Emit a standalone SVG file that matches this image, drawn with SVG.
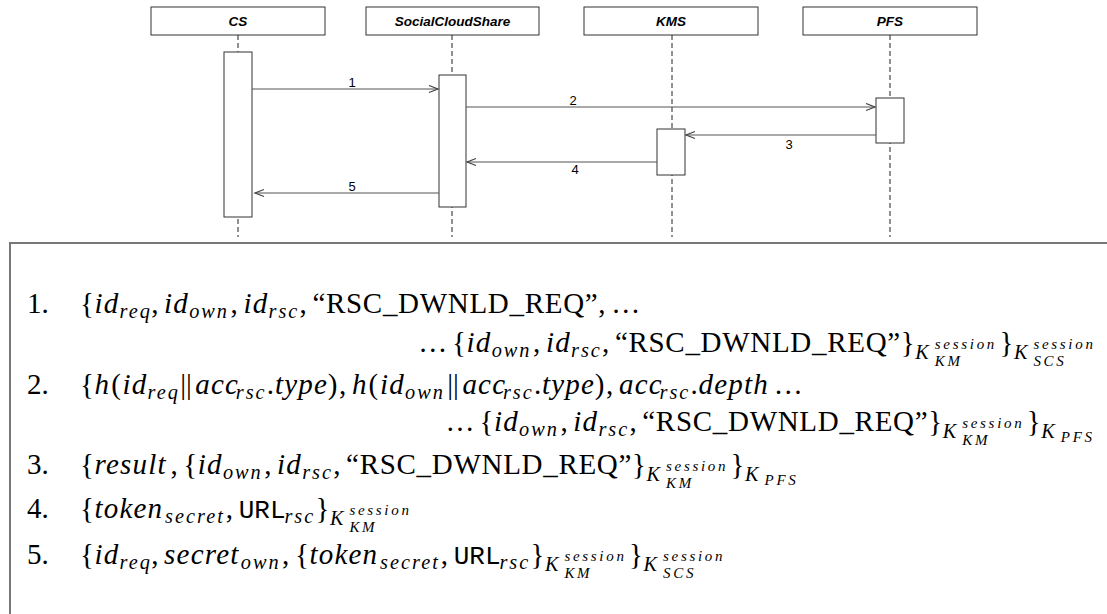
<svg xmlns="http://www.w3.org/2000/svg" width="1107" height="614" viewBox="0 0 1107 614">
<style>
.pbox{fill:#fff;stroke:#333;stroke-width:1}
.plabel{font-family:"Liberation Sans",Arial,sans-serif;font-size:13.5px;font-weight:bold;font-style:italic;text-anchor:middle;fill:#000}
.life{stroke:#222;stroke-width:1;stroke-dasharray:5,3;fill:none}
.act{fill:#fff;stroke:#333;stroke-width:1}
.msg{stroke:#555;stroke-width:1.2;fill:none;marker-end:url(#open)}
.mlabel{font-family:"Liberation Sans",Arial,sans-serif;font-size:13px;text-anchor:middle;fill:#000}
.frame{fill:#fff;stroke:#777;stroke-width:2}
.r{font-family:"Liberation Serif","Times New Roman",serif;font-size:29px;fill:#000}
.q{font-family:"Liberation Serif","Times New Roman",serif;font-size:29px;letter-spacing:0.7px;fill:#000}
.i{font-family:"Liberation Serif","Times New Roman",serif;font-size:29px;font-style:italic;letter-spacing:1.2px;fill:#000}
.s{font-family:"Liberation Serif","Times New Roman",serif;font-size:20.3px;font-style:italic;letter-spacing:2px;fill:#000}
.ss{font-family:"Liberation Serif","Times New Roman",serif;font-size:15px;font-style:italic;letter-spacing:2.7px;fill:#000}
.tt{font-family:"Liberation Mono","Courier New",monospace;font-size:26px;fill:#000}
</style>
<defs>
<marker id="open" markerUnits="userSpaceOnUse" markerWidth="12" markerHeight="10" refX="10" refY="4.5" orient="auto">
<path d="M1,1 L10,4.5 L1,8" fill="none" stroke="#444" stroke-width="1.2"/>
</marker>
</defs>

<g id="CS">
<rect class="pbox" x="151" y="7" width="174" height="28"/>
<text class="plabel" x="238" y="26">CS</text>
<line class="life" x1="238" y1="35" x2="238" y2="237"/>
<rect class="act" x="224" y="52" width="28" height="165"/>
</g>
<g id="SocialCloudShare">
<rect class="pbox" x="366" y="7" width="173" height="28"/>
<text class="plabel" x="452.5" y="26">SocialCloudShare</text>
<line class="life" x1="452" y1="35" x2="452" y2="237"/>
<rect class="act" x="439" y="75" width="27" height="132"/>
</g>
<g id="KMS">
<rect class="pbox" x="584" y="7" width="174" height="28"/>
<text class="plabel" x="671" y="26">KMS</text>
<line class="life" x1="672" y1="35" x2="672" y2="237"/>
<rect class="act" x="657" y="129" width="28" height="46"/>
</g>
<g id="PFS">
<rect class="pbox" x="803" y="7" width="174" height="28"/>
<text class="plabel" x="890" y="26">PFS</text>
<line class="life" x1="890" y1="35" x2="890" y2="237"/>
<rect class="act" x="876" y="98" width="28" height="45"/>
</g>

<g id="connectors">
<path class="msg" d="M252,89 H438"/>
<text class="mlabel" x="352" y="87">1</text>
<path class="msg" d="M466,107 H875"/>
<text class="mlabel" x="573" y="105">2</text>
<path class="msg" d="M876,135 H686"/>
<text class="mlabel" x="789" y="149">3</text>
<path class="msg" d="M657,162 H467"/>
<text class="mlabel" x="575" y="174">4</text>
<path class="msg" d="M439,193 H255"/>
<text class="mlabel" x="352" y="191">5</text>
</g>

<g id="messages">
<rect class="frame" x="10" y="243" width="1110" height="400"/>

<text id="msg1" class="r" y="313">
<tspan class="r" x="27">1.</tspan>
<tspan class="r" x="80">{</tspan>
<tspan class="i" x="94.5">id</tspan><tspan class="s" x="119.6" y="318">req</tspan><tspan class="r" x="151.2" y="313">,</tspan>
<tspan class="i" x="164.1">id</tspan><tspan class="s" x="189.2" y="318">own</tspan><tspan class="r" x="230.5" y="313">,</tspan>
<tspan class="i" x="243.4">id</tspan><tspan class="s" x="268.5" y="318">rsc</tspan><tspan class="r" x="299.5" y="313">,</tspan>
<tspan class="q" x="312.4">“RSC_DWNLD_REQ”</tspan><tspan class="r" x="598.3">,</tspan>
<tspan class="r" x="611.2">…</tspan>
</text>

<text id="msg1b" class="r" y="352">
<tspan class="r" x="418.2">…</tspan><tspan class="r" x="452.1">{</tspan>
<tspan class="i" x="466.6">id</tspan><tspan class="s" x="491.7" y="357">own</tspan><tspan class="r" x="533" y="352">,</tspan>
<tspan class="i" x="545.9">id</tspan><tspan class="s" x="571" y="357">rsc</tspan><tspan class="r" x="602" y="352">,</tspan>
<tspan class="q" x="614.9">“RSC_DWNLD_REQ”</tspan><tspan class="r" x="900.8">}</tspan>
<tspan class="s" x="915.3" y="359">K</tspan><tspan class="ss" x="934.8" y="349">session</tspan><tspan class="ss" x="934.8" y="366">KM</tspan>
<tspan class="r" x="999.4" y="352">}</tspan>
<tspan class="s" x="1013.9" y="359">K</tspan><tspan class="ss" x="1033.4" y="349">session</tspan><tspan class="ss" x="1033.4" y="366">SCS</tspan>
</text>

<text id="msg2" class="r" y="394">
<tspan class="r" x="27">2.</tspan>
<tspan class="r" x="80">{</tspan>
<tspan class="i" x="94.5">h</tspan><tspan class="r" x="111.2">(</tspan><tspan class="i" x="122.5">id</tspan><tspan class="s" x="147.6" y="399">req</tspan><tspan class="r" x="180.2" y="394">||</tspan><tspan class="i" x="195.3">acc</tspan><tspan class="s" x="235.8" y="399">rsc</tspan><tspan class="r" x="266.8" y="394">.</tspan><tspan class="i" x="274.9">type</tspan><tspan class="r" x="327.7">)</tspan><tspan class="r" x="339">,</tspan>
<tspan class="i" x="351.9">h</tspan><tspan class="r" x="368.6">(</tspan><tspan class="i" x="379.9">id</tspan><tspan class="s" x="405" y="399">own</tspan><tspan class="r" x="447.3" y="394">||</tspan><tspan class="i" x="462.4">acc</tspan><tspan class="s" x="502.9" y="399">rsc</tspan><tspan class="r" x="533.9" y="394">.</tspan><tspan class="i" x="542">type</tspan><tspan class="r" x="594.8">)</tspan><tspan class="r" x="606.1">,</tspan>
<tspan class="i" x="619">acc</tspan><tspan class="s" x="659.5" y="399">rsc</tspan><tspan class="r" x="690.5" y="394">.</tspan><tspan class="i" x="698.6">depth</tspan><tspan class="r" x="773.8">…</tspan>
</text>

<text id="msg2b" class="r" y="431">
<tspan class="r" x="445.6">…</tspan><tspan class="r" x="479.5">{</tspan>
<tspan class="i" x="494">id</tspan><tspan class="s" x="519.1" y="436">own</tspan><tspan class="r" x="560.4" y="431">,</tspan>
<tspan class="i" x="573.3">id</tspan><tspan class="s" x="598.4" y="436">rsc</tspan><tspan class="r" x="629.4" y="431">,</tspan>
<tspan class="q" x="642.3">“RSC_DWNLD_REQ”</tspan><tspan class="r" x="928.2">}</tspan>
<tspan class="s" x="942.7" y="438">K</tspan><tspan class="ss" x="962.2" y="428">session</tspan><tspan class="ss" x="962.2" y="445">KM</tspan>
<tspan class="r" x="1026.8" y="431">}</tspan>
<tspan class="s" x="1041.3" y="438">K</tspan><tspan class="ss" x="1060.8" y="442">PFS</tspan>
</text>

<text id="msg3" class="r" y="474">
<tspan class="r" x="27">3.</tspan>
<tspan class="r" x="80">{</tspan>
<tspan class="i" x="94.5">result</tspan><tspan class="r" x="170.4">,</tspan>
<tspan class="r" x="183.3">{</tspan><tspan class="i" x="197.8">id</tspan><tspan class="s" x="222.9" y="479">own</tspan><tspan class="r" x="264.2" y="474">,</tspan>
<tspan class="i" x="277.1">id</tspan><tspan class="s" x="302.2" y="479">rsc</tspan><tspan class="r" x="333.2" y="474">,</tspan>
<tspan class="q" x="346.1">“RSC_DWNLD_REQ”</tspan><tspan class="r" x="632">}</tspan>
<tspan class="s" x="646.5" y="481">K</tspan><tspan class="ss" x="666" y="471">session</tspan><tspan class="ss" x="666" y="488">KM</tspan>
<tspan class="r" x="730.6" y="474">}</tspan>
<tspan class="s" x="745.1" y="481">K</tspan><tspan class="ss" x="764.6" y="485">PFS</tspan>
</text>

<text id="msg4" class="r" y="518">
<tspan class="r" x="27">4.</tspan>
<tspan class="r" x="80">{</tspan>
<tspan class="i" x="94.5">token</tspan><tspan class="s" x="165.1" y="523">secret</tspan><tspan class="r" x="225.8" y="518">,</tspan>
<tspan class="tt" x="238.7">URL</tspan><tspan class="s" x="284.4" y="523">rsc</tspan><tspan class="r" x="315.4" y="518">}</tspan>
<tspan class="s" x="329.9" y="525">K</tspan><tspan class="ss" x="349.4" y="515">session</tspan><tspan class="ss" x="349.4" y="532">KM</tspan>
</text>

<text id="msg5" class="r" y="564">
<tspan class="r" x="27">5.</tspan>
<tspan class="r" x="80">{</tspan>
<tspan class="i" x="94.5">id</tspan><tspan class="s" x="119.6" y="569">req</tspan><tspan class="r" x="151.2" y="564">,</tspan>
<tspan class="i" x="164.1">secret</tspan><tspan class="s" x="240.8" y="569">own</tspan><tspan class="r" x="282.1" y="564">,</tspan>
<tspan class="r" x="295">{</tspan><tspan class="i" x="309.5">token</tspan><tspan class="s" x="380.1" y="569">secret</tspan><tspan class="r" x="440.8" y="564">,</tspan>
<tspan class="tt" x="453.7">URL</tspan><tspan class="s" x="499.4" y="569">rsc</tspan><tspan class="r" x="530.4" y="564">}</tspan>
<tspan class="s" x="544.9" y="571">K</tspan><tspan class="ss" x="564.4" y="561">session</tspan><tspan class="ss" x="564.4" y="578">KM</tspan>
<tspan class="r" x="629" y="564">}</tspan>
<tspan class="s" x="643.5" y="571">K</tspan><tspan class="ss" x="663" y="561">session</tspan><tspan class="ss" x="663" y="578">SCS</tspan>
</text>
</g>
</svg>
